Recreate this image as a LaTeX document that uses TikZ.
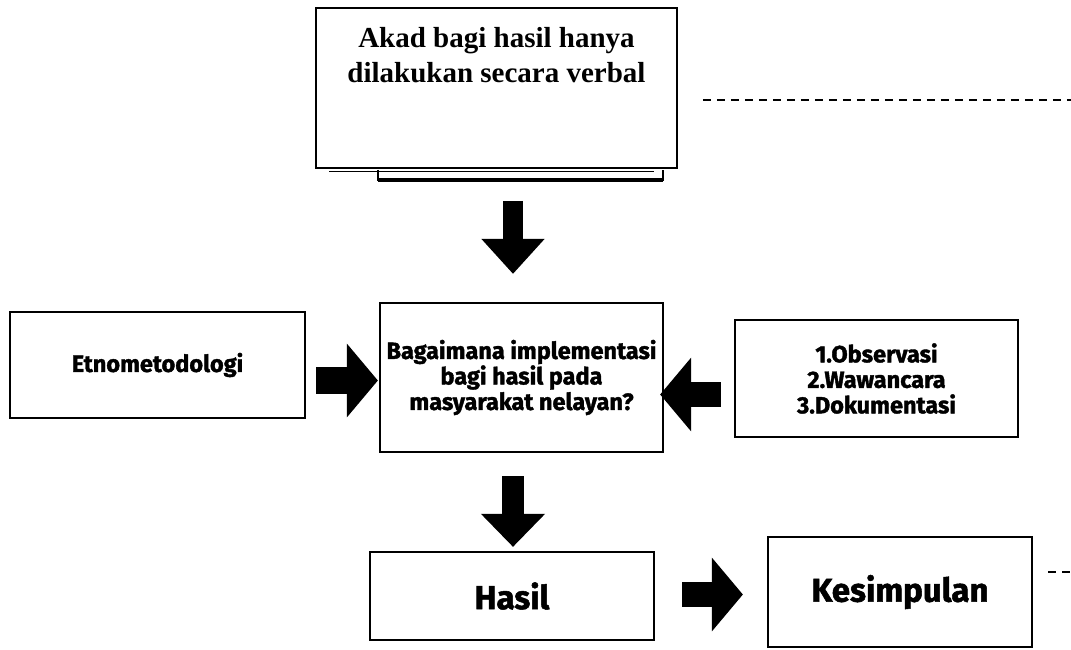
\documentclass[tikz,border=0pt]{standalone}
\usepackage{fontspec}
\newfontfamily\judulfont{Liberation Serif}
\newfontfamily\tebalfont{Fira Sans}[BoldFeatures={FakeBold=1.6}]
\usepackage{tikz}
\usetikzlibrary{positioning,calc,arrows.meta}

\begin{document}
\begin{tikzpicture}[
    x=1pt, y=-1pt,
    kotak/.style={draw, rectangle, line width=2.2pt, inner sep=0pt, align=center, font=\tebalfont\bfseries\fontsize{23.5}{25.5}\selectfont},
    besar/.style={font=\tebalfont\bfseries\fontsize{33}{36}\selectfont},
    judul/.style={inner sep=0pt, align=center, font=\judulfont\bfseries\fontsize{29}{35}\selectfont},
    panah/.style={line width=#1, -{Triangle[length=31pt, width=72pt]}},
    garis/.style={dashed, dash pattern=on 8pt off 6pt, line width=1.8pt}
]
\useasboundingbox (0,0) rectangle (1071,649);

\node[kotak, line width=1.6pt, minimum width=361pt, minimum height=160pt] (akad) at (496.5,88) {};
\node[judul, below=20pt of akad.north] (akadteks) {Akad bagi hasil hanya\\dilakukan secara verbal};
\node[kotak, minimum width=295pt, minimum height=106pt] (etno) at (157.5,365) {Etnometodologi};
\node[kotak, minimum width=283pt, minimum height=149pt] (tanya) at (521.5,377.5) {Bagaimana implementasi\\bagi hasil pada\\masyarakat nelayan?};
\node[kotak, minimum width=283pt, minimum height=117pt] (metode) at (876.5,378.5) {1.Observasi\\2.Wawancara\\3.Dokumentasi};
\node[kotak, besar, minimum width=284pt, minimum height=88pt] (hasil) at (512,596) {Hasil};
\node[kotak, besar, minimum width=264pt, minimum height=110pt] (simpul) at (900,592) {Kesimpulan};
\coordinate (ujung1) at (1071,100);
\coordinate (ujung2) at (1071,572);

\draw[line width=1.2pt] ($(akad.south west)+(14,3)$) -- ($(akad.south east)+(-24,3)$);
\draw[line width=1.6pt] ($(akad.south west)+(63,1)$) -- ($(akad.south west)+(63,11)$) -- ($(akad.south east)+(-15,11)$) -- ($(akad.south east)+(-15,1)$);
\draw[line width=3.5pt] ($(akad.south west)+(63,11)$) -- ($(akad.south east)+(-15,11)$);

\draw[panah=20pt, -{Triangle[length=35pt, width=61pt]}] ($(akad.south)+(16.5,32)$) -- ($(tanya.north)+(-8.5,-28)$);
\draw[panah=27pt] ($(etno.east)+(10,15.5)$) -- ($(tanya.west)+(-1,3)$);
\draw[panah=25pt] ($(metode.west)+(-13,16)$) -- ($(tanya.east)+(-4,17)$);
\draw[panah=22pt, -{Triangle[length=33pt, width=62pt]}] ($(tanya.south)+(-8.5,23)$) -- ($(hasil.north)+(1,-4)$);
\draw[panah=25pt] ($(hasil.east)+(27,-1.5)$) -- ($(simpul.west)+(-24,2.5)$);
\draw[garis] ($(akad.east)+(25,12)$) -- (ujung1);
\draw[garis] ($(simpul.east)+(15,-20)$) -- (ujung2);
\end{tikzpicture}
\end{document}
